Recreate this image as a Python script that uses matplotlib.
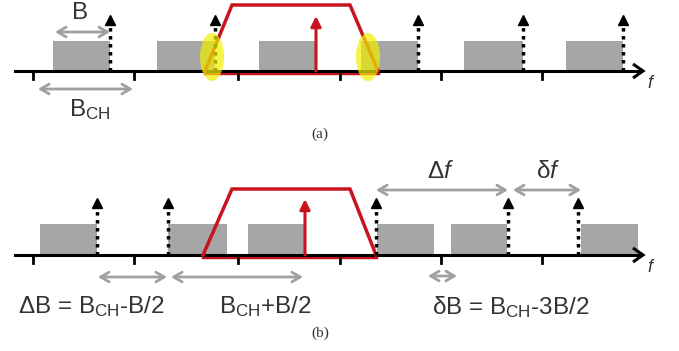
import matplotlib
matplotlib.use("Agg")
import matplotlib.pyplot as plt
from matplotlib.patches import Rectangle, Ellipse

plt.rcParams['font.family'] = ['Liberation Sans', 'DejaVu Sans']
plt.rcParams['mathtext.fontset'] = 'custom'
plt.rcParams['mathtext.rm'] = 'Liberation Sans'
plt.rcParams['mathtext.it'] = 'Liberation Sans:italic'
plt.rcParams['mathtext.bf'] = 'Liberation Sans:bold'

# ---- data (frequency positions in diagram units) ----
ticks = [33, 134, 238, 340, 441, 542]
# panel (a)
a_box_left = [53, 157, 259, 361, 464, 566]
a_box_right = [110, 215, 316, 418, 523, 623]
a_carriers = [110, 215, 418, 523, 623]
a_signal = 316
a_trap_x = [205, 232, 350, 378]
a_overlap = [212, 368]
# panel (b)
b_box_left = [40, 168, 248, 377, 451, 581]
b_box_right = [97, 227, 305, 434, 507, 638]
b_carriers = [97, 168, 376, 508, 578]
b_signal = 305
b_trap_x = [203, 232, 350, 376]

GRAY = '#a6a6a6'
AGRAY = '#a0a0a0'
RED = '#c8141e'
TXT = '#333333'
FS = 17.5

fig = plt.figure(figsize=(6.79, 3.51), dpi=100)
ax = fig.add_axes([0, 0, 1, 1])
ax.set_xlim(0, 679)
ax.set_ylim(351, 0)
ax.axis('off')


def panel(y0, box_l, box_r, box_top, carriers, sig, trap_x, trap_top, tip):
    for l, r in zip(box_l, box_r):
        ax.add_patch(Rectangle((l, box_top), r - l, y0 - box_top, color=GRAY, lw=0, zorder=1))
    # red trapezoid
    ax.plot(trap_x, [y0, trap_top, trap_top, y0], color=RED, lw=2.5, zorder=4, solid_joinstyle='miter')
    ax.plot([trap_x[0], trap_x[-1]], [y0 + 1.5, y0 + 1.5], color=RED, lw=2.5, zorder=2)
    # axis
    ax.plot([15, 640], [y0, y0], color='black', lw=2.2, zorder=3)
    ax.plot([633, 643, 633], [y0 - 7, y0, y0 + 7], color='black', lw=2.2, zorder=3,
            solid_joinstyle='miter', solid_capstyle='butt')
    for t in ticks:
        ax.plot([t, t], [y0, y0 + 8], color='black', lw=2, zorder=3)
    # carriers (dotted)
    for c in carriers:
        ax.plot([c, c], [y0, tip + 6], color='black', lw=2.5, ls=(0, (1, 1.3)), zorder=5)
        ax.plot([c], [tip + 5], marker='^', color='black', ms=6.5, zorder=5)
    # signal carrier
    ax.annotate('', xy=(sig, tip + 1), xytext=(sig, y0),
                arrowprops=dict(arrowstyle='-|>,head_length=0.6,head_width=0.3', lw=2.2,
                                color=RED, shrinkA=0, shrinkB=0), zorder=5)
    ax.text(650, y0 + 12, 'f', fontsize=13, style='italic', ha='center', va='center', color=TXT)


def darrow(x1, x2, y):
    ax.annotate('', xy=(x2, y), xytext=(x1, y),
                arrowprops=dict(arrowstyle='<->,head_length=0.6,head_width=0.35', lw=2,
                                color=AGRAY, shrinkA=0, shrinkB=0), zorder=6)


# ---- panel (a) ----
panel(71, a_box_left, a_box_right, 41, a_carriers, a_signal, a_trap_x, 5, 15)
for xo in a_overlap:
    ax.add_patch(Ellipse((xo, 57), 24, 48, color='#f0f000', alpha=0.7, lw=0, zorder=7))
darrow(55, 110, 32)
ax.text(80, 13, 'B', fontsize=FS, ha='center', va='center', color=TXT)
darrow(38, 133, 89)
ax.text(90, 110, r'B$_{\mathrm{CH}}$', fontsize=FS, ha='center', va='center', color=TXT)
ax.text(320, 134, '(a)', fontsize=11, family='Liberation Serif', ha='center', va='center', color=TXT)

# ---- panel (b) ----
panel(255, b_box_left, b_box_right, 224, b_carriers, b_signal, b_trap_x, 189, 198)
darrow(98, 167, 277)
darrow(171, 303, 277)
darrow(376, 508, 190)
darrow(513, 581, 190)
darrow(428, 457, 276)
ax.text(91, 307, r'ΔB = B$_{\mathrm{CH}}$-B/2', fontsize=FS, ha='center', va='center', color=TXT)
ax.text(265, 307, r'B$_{\mathrm{CH}}$+B/2', fontsize=FS, ha='center', va='center', color=TXT)
ax.text(441, 172, r'Δ$\mathit{f}$', fontsize=FS, ha='center', va='center', color=TXT)
ax.text(548, 172, r'δ$\mathit{f}$', fontsize=FS, ha='center', va='center', color=TXT)
ax.text(511, 307, r'δB = B$_{\mathrm{CH}}$-3B/2', fontsize=FS, ha='center', va='center', color=TXT)
ax.text(320, 333, '(b)', fontsize=11, family='Liberation Serif', ha='center', va='center', color=TXT)

fig.savefig('out.png', dpi=100)
